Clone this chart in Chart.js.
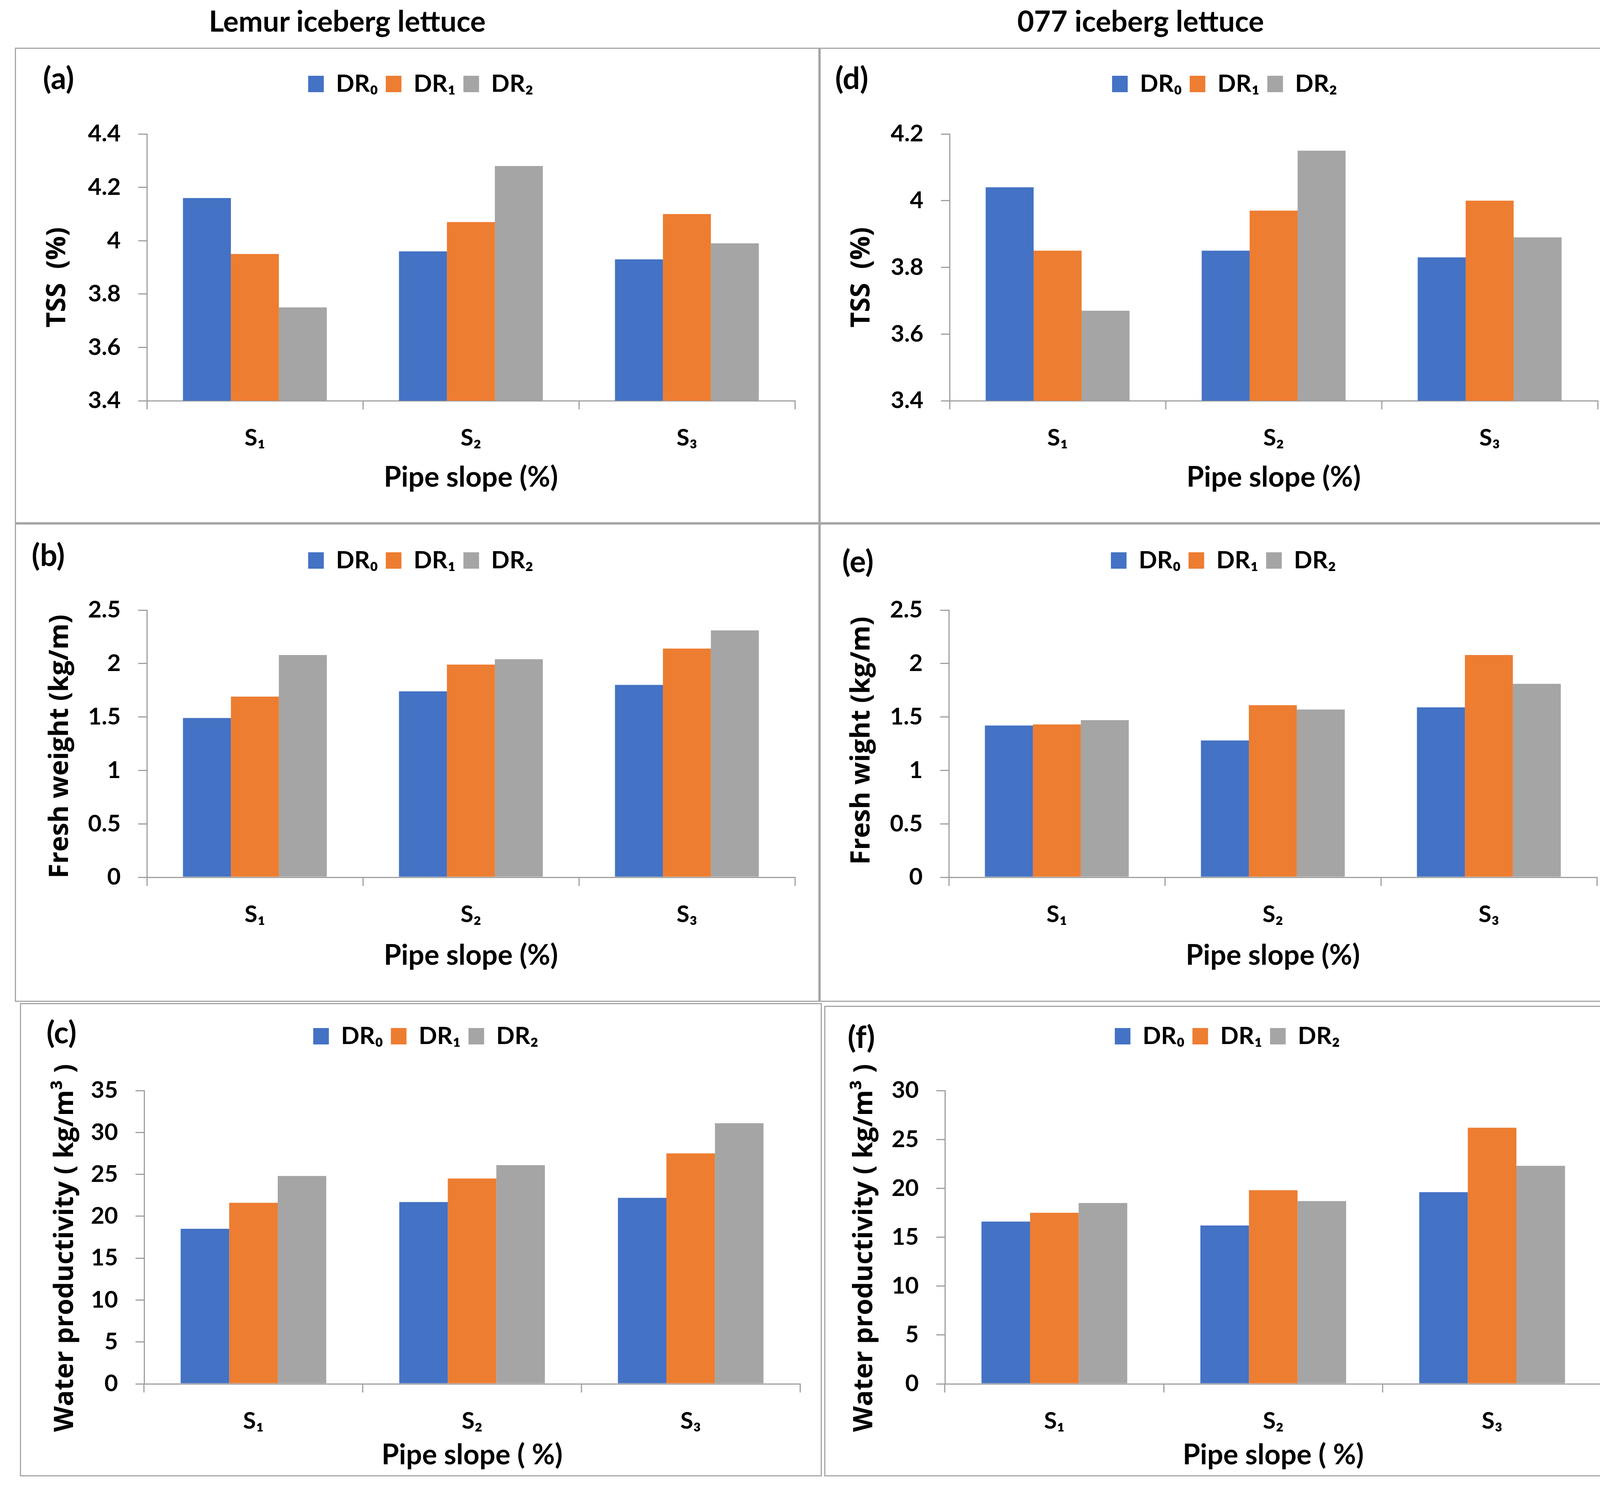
<!DOCTYPE html>
<html>
<head>
<meta charset="utf-8">
<script src="https://cdn.jsdelivr.net/npm/chart.js@4.4.1/dist/chart.umd.min.js"></script>
<style>
  body { margin: 0; width: 4205px; height: 3825px; background: #fff; position: relative; overflow: hidden; }
  .panel { position: absolute; }
  .panel canvas { position: absolute; left: 0; top: 0; }
  .frame { position: absolute; left: 0; top: 0; right: 0; bottom: 0; box-sizing: border-box; border: 3px solid #a6a6a6; pointer-events: none; }
  .txt { position: absolute; white-space: pre; font-weight: 700; color: #000; line-height: 1; font-family: Lato, 'Noto Sans', sans-serif; }
  .head { font-size: 74px; transform: translate(-50%, -50%); }
  .tag { font-size: 78px; transform: translateY(-50%); }
  .ytitle { font-family: 'Open Sans', 'Noto Sans', sans-serif; font-size: 68px; transform: translate(-50%, -50%) rotate(-90deg); }
</style>
</head>
<body>
<script>
// categories and series
const slopeLabels = ['S\u2081', 'S\u2082', 'S\u2083'];
const seriesNames = ['DR\u2080', 'DR\u2081', 'DR\u2082'];
const barColors = ['#4472C4', '#ED7D31', '#A5A5A5'];

// (a) TSS, Lemur
const tssLemurDR0 = [4.16, 3.96, 3.93];
const tssLemurDR1 = [3.95, 4.07, 4.10];
const tssLemurDR2 = [3.75, 4.28, 3.99];
// (d) TSS, 077
const tss077DR0 = [4.04, 3.85, 3.83];
const tss077DR1 = [3.85, 3.97, 4.00];
const tss077DR2 = [3.67, 4.15, 3.89];
// (b) fresh weight, Lemur
const fwLemurDR0 = [1.49, 1.74, 1.80];
const fwLemurDR1 = [1.69, 1.99, 2.14];
const fwLemurDR2 = [2.08, 2.04, 2.31];
// (e) fresh weight, 077
const fw077DR0 = [1.42, 1.28, 1.59];
const fw077DR1 = [1.43, 1.61, 2.08];
const fw077DR2 = [1.47, 1.57, 1.81];
// (c) water productivity, Lemur
const wpLemurDR0 = [18.5, 21.7, 22.2];
const wpLemurDR1 = [21.6, 24.5, 27.5];
const wpLemurDR2 = [24.8, 26.1, 31.1];
// (f) water productivity, 077
const wp077DR0 = [16.6, 16.2, 19.6];
const wp077DR1 = [17.5, 19.8, 26.2];
const wp077DR2 = [18.5, 18.7, 22.3];

// y axes: min, max, step
const tssLemurAxis = [3.4, 4.4, 0.2];
const tss077Axis = [3.4, 4.2, 0.2];
const fwAxis = [0, 2.5, 0.5];
const wpLemurAxis = [0, 35, 5];
const wp077Axis = [0, 30, 5];

const FONT = "Lato, 'Noto Sans', sans-serif";
const AXIS = '#a0a0a0';
const LEGEND_SIZE = 62;
const LEGEND_PAD = 20;

// page layout (pixels)
const panels = [
  { tag: '(a)', tagPos: [110, 198], box: [38, 122, 2098, 1340], plot: [376, 343, 2035, 1026], legend: [1077, 215], xTitleY: 1223,
    yTitle: 'TSS  (%)', yTitlePos: [141, 710], xTitle: 'Pipe slope (%)',
    values: [tssLemurDR0, tssLemurDR1, tssLemurDR2], axis: tssLemurAxis },
  { tag: '(d)', tagPos: [2138, 198], box: [2098, 122, 4155, 1340], plot: [2431, 343, 4090, 1026], legend: [3135, 215], xTitleY: 1223,
    yTitle: 'TSS  (%)', yTitlePos: [2200, 710], xTitle: 'Pipe slope (%)',
    values: [tss077DR0, tss077DR1, tss077DR2], axis: tss077Axis },
  { tag: '(b)', tagPos: [81, 1419], box: [38, 1340, 2098, 2565], plot: [376, 1562, 2035, 2246], legend: [1077, 1435], xTitleY: 2447,
    yTitle: 'Fresh weight (kg/m)', yTitlePos: [148, 1911], xTitle: 'Pipe slope (%)',
    values: [fwLemurDR0, fwLemurDR1, fwLemurDR2], axis: fwAxis },
  { tag: '(e)', tagPos: [2156, 1435], box: [2098, 1340, 4155, 2565], plot: [2429, 1562, 4088, 2246], legend: [3132, 1435], xTitleY: 2447,
    yTitle: 'Fresh wight (kg/m)', yTitlePos: [2200, 1896], xTitle: 'Pipe slope (%)',
    values: [fw077DR0, fw077DR1, fw077DR2], axis: fwAxis },
  { tag: '(c)', tagPos: [119, 2641], box: [51, 2568, 2104, 3780], plot: [369, 2792, 2048, 3543], legend: [1090, 2653], xTitleY: 3726,
    yTitle: 'Water productivity ( kg/m\u00B3 )', yTitlePos: [161, 3195], xTitle: 'Pipe slope ( %)',
    values: [wpLemurDR0, wpLemurDR1, wpLemurDR2], axis: wpLemurAxis },
  { tag: '(f)', tagPos: [2170, 2653], box: [2110, 2575, 4164, 3780], plot: [2419, 2792, 4100, 3543], legend: [3142, 2653], xTitleY: 3726,
    yTitle: 'Water productivity ( kg/m\u00B3 )', yTitlePos: [2207, 3195], xTitle: 'Pipe slope ( %)',
    values: [wp077DR0, wp077DR1, wp077DR2], axis: wp077Axis }
];

// push the plot area down below the legend
function legendGap(extra) {
  return {
    id: 'legendGap',
    beforeInit(chart) {
      const fitLegend = chart.legend.fit;
      chart.legend.fit = function () {
        fitLegend.call(this);
        this.height += extra;
      };
    }
  };
}

function addText(cls, text, x, y) {
  const el = document.createElement('div');
  el.className = 'txt ' + cls;
  el.textContent = text;
  el.style.left = x + 'px';
  el.style.top = y + 'px';
  document.body.appendChild(el);
}

function buildPanel(p) {
  const [bl, bt, br, bb] = p.box;
  const [pl, pt, pr, pb] = p.plot;
  const W = br - bl, H = bb - bt;
  const padR = br - pr, padB = 10;
  // legend is centred between the left and right padding
  const padL = Math.max(0, 2 * (p.legend[0] - bl) - W + padR);
  const padTop = p.legend[1] - bt - LEGEND_PAD - LEGEND_SIZE / 2;
  const gap = (pt - bt) - padTop - (LEGEND_SIZE + LEGEND_PAD + 10);
  const yAxisW = pl - bl - padL;
  const xAxisH = bb - pb - padB;
  const xTitleLH = 72 * 1.2;
  const xTitlePad = (H - padB) - xTitleLH / 2 - (p.xTitleY - bt);

  const wrap = document.createElement('div');
  wrap.className = 'panel';
  wrap.style.left = bl + 'px';
  wrap.style.top = bt + 'px';
  wrap.style.width = W + 'px';
  wrap.style.height = H + 'px';
  const canvas = document.createElement('canvas');
  canvas.width = W;
  canvas.height = H;
  canvas.style.width = W + 'px';
  canvas.style.height = H + 'px';
  wrap.appendChild(canvas);
  const frame = document.createElement('div');
  frame.className = 'frame';
  wrap.appendChild(frame);
  document.body.appendChild(wrap);

  const tickFont = { family: FONT, size: 60, weight: 'bold' };
  const gridOpts = { drawOnChartArea: false, drawTicks: true, tickLength: 22, color: AXIS, lineWidth: 3 };

  new Chart(canvas, {
    type: 'bar',
    data: {
      labels: slopeLabels,
      datasets: p.values.map((vals, i) => ({
        label: seriesNames[i],
        data: vals,
        backgroundColor: barColors[i],
        borderWidth: 0,
        categoryPercentage: 0.666,
        barPercentage: 1.0
      }))
    },
    options: {
      responsive: false,
      animation: false,
      devicePixelRatio: 1,
      layout: { padding: { left: padL, right: padR, top: padTop, bottom: padB } },
      plugins: {
        legend: {
          position: 'top',
          align: 'center',
          labels: {
            font: { family: FONT, size: LEGEND_SIZE, weight: 'bold' },
            color: '#000',
            boxWidth: 40,
            boxHeight: 42,
            padding: LEGEND_PAD
          }
        },
        tooltip: { enabled: false }
      },
      scales: {
        x: {
          grid: Object.assign({ offset: true }, gridOpts),
          border: { color: AXIS, width: 3 },
          ticks: { font: tickFont, color: '#000', padding: 38, maxRotation: 0 },
          title: {
            display: true,
            text: p.xTitle,
            color: '#000',
            font: { family: FONT, size: 72, weight: 'bold' },
            padding: { top: 0, bottom: xTitlePad }
          },
          afterFit: (s) => { s.height = xAxisH; }
        },
        y: {
          min: p.axis[0],
          max: p.axis[1],
          grid: gridOpts,
          border: { color: AXIS, width: 3 },
          ticks: {
            stepSize: p.axis[2],
            font: tickFont,
            color: '#000',
            padding: 45,
            callback: (v) => String(Math.round(v * 100) / 100)
          },
          afterFit: (s) => { s.width = yAxisW; }
        }
      }
    },
    plugins: [legendGap(gap)]
  });

  addText('tag', p.tag, p.tagPos[0], p.tagPos[1]);
  addText('ytitle', p.yTitle, p.yTitlePos[0], p.yTitlePos[1]);
}

addText('head', 'Lemur iceberg lettuce', 889, 53);
addText('head', '077 iceberg lettuce', 2920, 53);
panels.forEach(buildPanel);
</script>
</body>
</html>
